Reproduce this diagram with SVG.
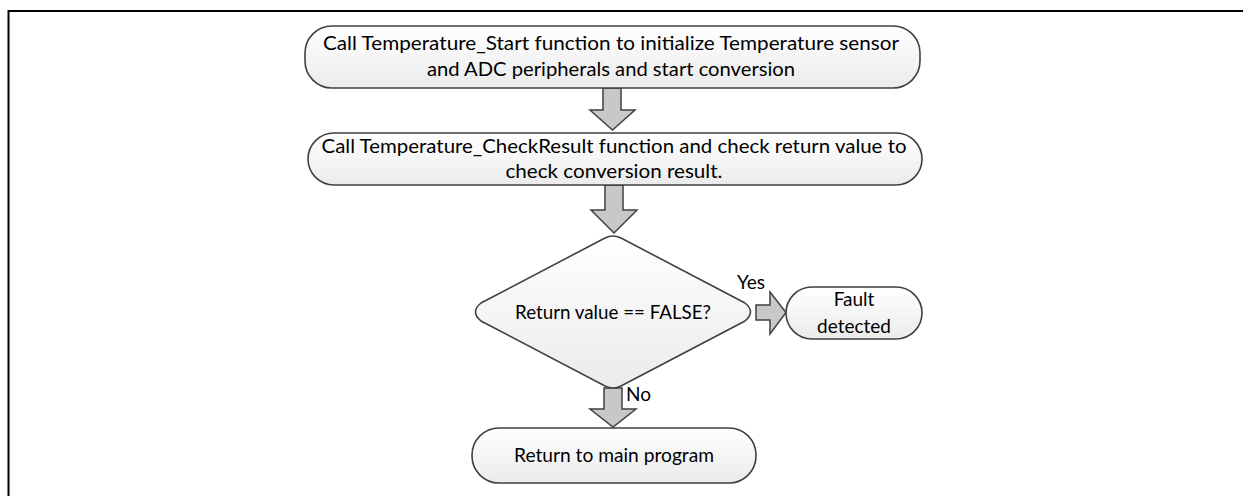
<svg xmlns="http://www.w3.org/2000/svg" width="1243" height="496" viewBox="0 0 1243 496">
<defs>
<linearGradient id="g" x1="0" y1="0" x2="0" y2="1">
<stop offset="0" stop-color="#ffffff"/>
<stop offset="1" stop-color="#ebebeb"/>
</linearGradient>
<style>
.node{fill:url(#g);stroke:#404040;stroke-width:1.6}
.arr{fill:#c8c8c8;stroke:#404040;stroke-width:1.5;stroke-linejoin:miter}
text{font-family:Lato,"Liberation Sans",sans-serif;font-size:19px;fill:#000}
.c{text-anchor:middle}
</style>
</defs>
<rect width="1243" height="496" fill="#fff"/>
<path d="M8.5 496 V11 H1243" fill="none" stroke="#000" stroke-width="2"/>
<g id="connectors">
<path class="arr" d="M603 88 H621 V110 H635 L612.5 130 L590 110 H603 Z"/>
<path class="arr" d="M605 185 H623 V210 H637 L614 233 L591 210 H605 Z"/>
<path class="arr" d="M604 388 H622 V409 H636 L613 427 L590 409 H604 Z"/>
<path class="arr" d="M756 305 H770 V292 L786 312.5 L770 334 V320 H756 Z"/>
<text x="737" y="289">Yes</text>
<text x="626" y="401">No</text>
</g>
<g id="n1">
<rect class="node" x="305" y="26" width="615" height="62" rx="27" ry="27"/>
<text class="c" x="611" y="50" textLength="576" lengthAdjust="spacingAndGlyphs">Call Temperature_Start function to initialize Temperature sensor</text>
<text class="c" x="611" y="76" textLength="368" lengthAdjust="spacingAndGlyphs">and ADC peripherals and start conversion</text>
</g>
<g id="n2">
<rect class="node" x="308" y="133" width="614" height="52" rx="26" ry="26"/>
<text class="c" x="614" y="153" textLength="585" lengthAdjust="spacingAndGlyphs">Call Temperature_CheckResult function and check return value to</text>
<text class="c" x="614" y="178" textLength="217" lengthAdjust="spacingAndGlyphs">check conversion result.</text>
</g>
<g id="n3">
<path class="node" d="M605 238 Q613 234 621 238 L745 303 Q756 312 745 321 L621 386 Q613 390 605 386 L481 321 Q470 312 481 303 Z"/>
<text class="c" x="613" y="319" textLength="196" lengthAdjust="spacingAndGlyphs">Return value == FALSE?</text>
</g>
<g id="n4">
<rect class="node" x="786" y="287" width="136" height="52" rx="26" ry="26"/>
<text class="c" x="854" y="306">Fault</text>
<text class="c" x="854" y="333">detected</text>
</g>
<g id="n5">
<rect class="node" x="472" y="428" width="284" height="55" rx="27" ry="27"/>
<text class="c" x="614" y="462" textLength="200" lengthAdjust="spacingAndGlyphs">Return to main program</text>
</g>
</svg>
